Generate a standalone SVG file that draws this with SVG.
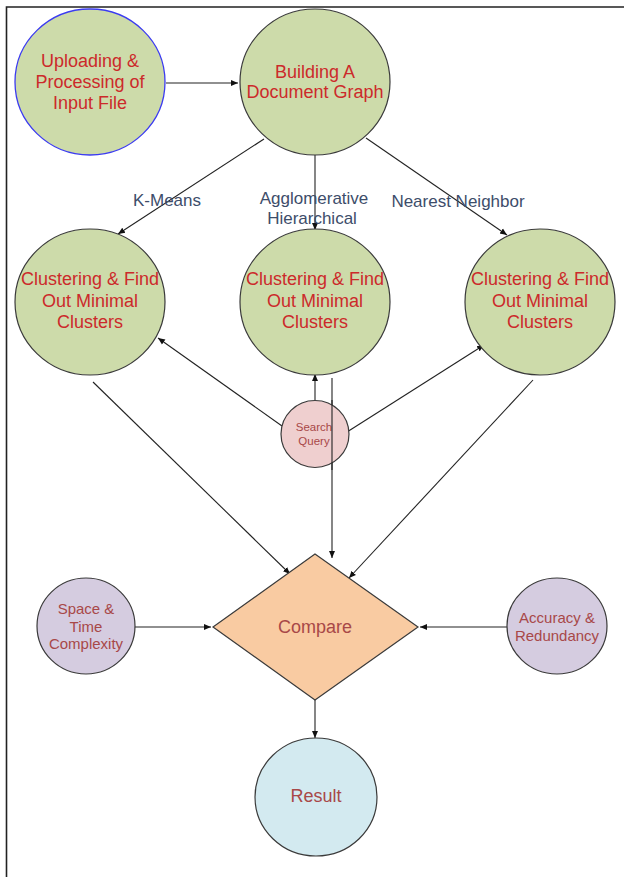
<svg xmlns="http://www.w3.org/2000/svg" width="624" height="877" viewBox="0 0 624 877">
<style>
.n{stroke:#3a3a3a;stroke-width:1.2}
.g{fill:#cddbaa}
.t{font-family:"Liberation Sans",Arial,sans-serif;text-anchor:middle;dominant-baseline:central}
.r{fill:#cc2a2a;font-size:18px}
.b{fill:#a84848}
.lbl{fill:#3d4d6a;font-size:17px}
.c{stroke:#222;stroke-width:1.1;fill:none}
.a{marker-end:url(#ah)}
</style>
<defs>
<marker id="ah" markerWidth="8" markerHeight="8" refX="7" refY="4" orient="auto" markerUnits="userSpaceOnUse">
<path d="M0,1 L7,4 L0,7 Z" fill="#111"/>
</marker>
</defs>
<rect width="624" height="877" fill="#fff"/>
<path d="M6.5,877 V7 H624" fill="none" stroke="#222" stroke-width="1.6"/>

<g id="connectors">
<line class="c a" x1="166" y1="83" x2="238" y2="83"/>
<line class="c a" x1="264" y1="139" x2="118" y2="234"/>
<line class="c a" x1="315" y1="148" x2="315" y2="230"/>
<line class="c a" x1="366" y1="138" x2="507" y2="235"/>
<line class="c a" x1="315" y1="400" x2="315" y2="374"/>
<line class="c a" x1="282" y1="426" x2="158" y2="338"/>
<line class="c a" x1="347" y1="432" x2="484" y2="345"/>
<line class="c a" x1="332" y1="378" x2="332" y2="558"/>
<line class="c a" x1="93" y1="382" x2="290" y2="574"/>
<line class="c a" x1="533" y1="380" x2="349" y2="578"/>
<line class="c a" x1="133" y1="627" x2="211" y2="627"/>
<line class="c a" x1="507" y1="627" x2="420" y2="627"/>
<line class="c a" x1="315" y1="700" x2="315" y2="738"/>
<text class="t lbl" x="167" y="200">K-Means</text>
<text class="t lbl" x="314" y="198">Agglomerative</text>
<text class="t lbl" x="312" y="218">Hierarchical</text>
<text class="t lbl" x="458" y="201">Nearest Neighbor</text>
</g>

<g id="upload">
<ellipse cx="90" cy="82" rx="75" ry="73" class="g" stroke="#3b3bf0" stroke-width="1.3"/>
<text class="t r" x="90" y="61">Uploading &amp;</text>
<text class="t r" x="90" y="82">Processing of</text>
<text class="t r" x="90" y="103">Input File</text>
</g>

<g id="graph">
<ellipse cx="315" cy="82" rx="75" ry="73" class="n g"/>
<text class="t r" x="315" y="72">Building A</text>
<text class="t r" x="315" y="92">Document Graph</text>
</g>

<g id="cluster1">
<ellipse cx="90" cy="302" rx="75" ry="73" class="n g"/>
<text class="t r" x="90" y="279">Clustering &amp; Find</text>
<text class="t r" x="90" y="301">Out Minimal</text>
<text class="t r" x="90" y="322">Clusters</text>
</g>

<g id="cluster2">
<ellipse cx="315" cy="302" rx="75" ry="73" class="n g"/>
<text class="t r" x="315" y="279">Clustering &amp; Find</text>
<text class="t r" x="315" y="301">Out Minimal</text>
<text class="t r" x="315" y="322">Clusters</text>
</g>

<g id="cluster3">
<ellipse cx="540" cy="302" rx="75" ry="73" class="n g"/>
<text class="t r" x="540" y="279">Clustering &amp; Find</text>
<text class="t r" x="540" y="301">Out Minimal</text>
<text class="t r" x="540" y="322">Clusters</text>
</g>

<g id="search">
<ellipse cx="315" cy="434" rx="34" ry="33.5" class="n" fill="#efcfcf"/>
<text class="t b" x="314" y="427" font-size="11.5">Search</text>
<text class="t b" x="314" y="441" font-size="11.5">Query</text>
</g>
<line class="c" x1="332" y1="400" x2="332" y2="470"/>

<g id="compare">
<polygon points="315,554 418,627 315,700 213,627" class="n" fill="#f9cba2"/>
<text class="t b" x="315" y="627" font-size="18">Compare</text>
</g>

<g id="space">
<ellipse cx="86" cy="626" rx="49" ry="48" class="n" fill="#d5cce0"/>
<text class="t b" x="86" y="608" font-size="15">Space &amp;</text>
<text class="t b" x="86" y="626" font-size="15">Time</text>
<text class="t b" x="86" y="643" font-size="15">Complexity</text>
</g>

<g id="accuracy">
<ellipse cx="557" cy="626" rx="50" ry="48" class="n" fill="#d5cce0"/>
<text class="t b" x="557" y="617" font-size="15">Accuracy &amp;</text>
<text class="t b" x="557" y="635" font-size="15">Redundancy</text>
</g>

<g id="result">
<ellipse cx="316" cy="797" rx="61" ry="59" class="n" fill="#d3eaf0"/>
<text class="t b" x="316" y="796" font-size="18">Result</text>
</g>
</svg>
